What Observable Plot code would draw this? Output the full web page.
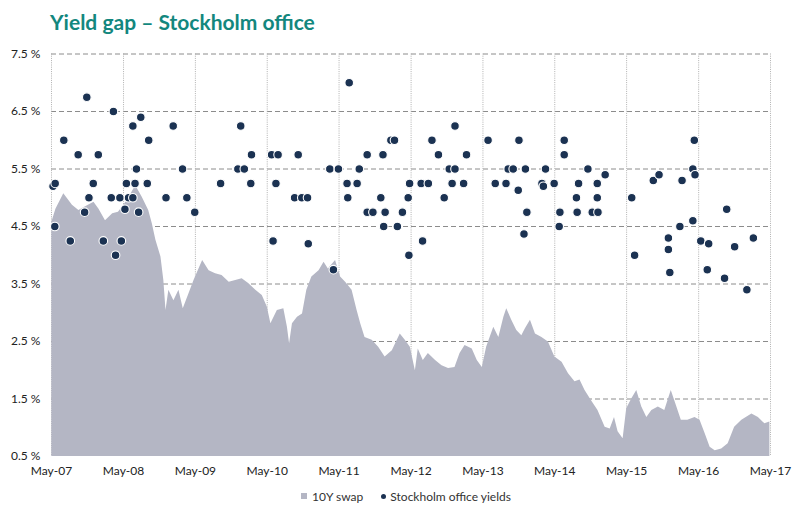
<!DOCTYPE html>
<html>
<head>
<meta charset="utf-8">
<script src="https://cdn.jsdelivr.net/npm/d3@7"></script>
<script src="https://cdn.jsdelivr.net/npm/@observablehq/plot@0.6"></script>
<style>
  html, body { margin: 0; padding: 0; background: #fff; }
  #wrap { position: relative; width: 812px; height: 515px; font-family: Lato, "Open Sans", sans-serif; }
  #title { position: absolute; left: 50px; top: 11px; font-size: 21px; line-height: 21px; font-weight: 700; color: #13877e; white-space: nowrap; }
  #chart { position: absolute; left: 0; top: 38px; }
  #legend { position: absolute; left: 0; width: 812px; top: 487px; text-align: center; font-size: 12px; color: #333; white-space: nowrap; }
  #legend span.item { display: inline-flex; align-items: center; margin: 0 9px; }
  #legend .sq { display: inline-block; width: 6px; height: 6px; background: #b4b6c4; margin-right: 5px; }
  #legend .ci { display: inline-block; width: 5px; height: 5px; border-radius: 50%; background: #1b3252; margin-right: 4px; }
</style>
</head>
<body>
<div id="wrap">
  <div id="title">Yield gap – Stockholm office</div>
  <div id="chart"></div>
  <div id="legend"><span class="item"><span class="sq"></span>10Y swap</span><span class="item"><span class="ci"></span>Stockholm office yields</span></div>
</div>
<script>
// 10Y swap (decimal year, %)
const swapYear = [2007.333,2007.39,2007.50,2007.62,2007.71,2007.81,2007.92,2007.99,2008.08,2008.18,2008.26,2008.38,2008.50,2008.59,2008.68,2008.73,2008.78,2008.85,2008.89,2008.92,2008.96,2009.03,2009.10,2009.16,2009.24,2009.31,2009.43,2009.52,2009.61,2009.70,2009.80,2009.89,2009.98,2010.07,2010.17,2010.26,2010.33,2010.38,2010.47,2010.56,2010.61,2010.64,2010.68,2010.75,2010.82,2010.88,2010.95,2011.05,2011.12,2011.18,2011.28,2011.35,2011.42,2011.51,2011.58,2011.63,2011.69,2011.79,2011.88,2011.97,2012.07,2012.18,2012.25,2012.32,2012.39,2012.43,2012.50,2012.57,2012.67,2012.76,2012.85,2012.94,2013.01,2013.08,2013.18,2013.25,2013.32,2013.38,2013.48,2013.55,2013.62,2013.66,2013.73,2013.80,2013.87,2013.92,2013.99,2014.06,2014.15,2014.24,2014.33,2014.43,2014.52,2014.61,2014.68,2014.75,2014.84,2014.93,2015.03,2015.10,2015.16,2015.21,2015.28,2015.33,2015.40,2015.47,2015.54,2015.61,2015.68,2015.77,2015.86,2015.95,2016.02,2016.09,2016.18,2016.28,2016.35,2016.42,2016.49,2016.56,2016.65,2016.74,2016.83,2016.93,2017.07,2017.16,2017.25,2017.32];
const swapValue = [4.57,4.80,5.07,4.87,4.78,4.85,4.92,4.80,4.60,4.72,4.75,4.95,5.21,5.01,4.78,4.55,4.26,3.97,3.56,3.04,3.39,3.21,3.39,3.07,3.33,3.56,3.91,3.73,3.68,3.65,3.53,3.56,3.59,3.51,3.39,3.30,3.10,2.81,3.04,3.07,2.75,2.46,2.81,2.92,2.98,3.39,3.62,3.73,3.88,3.76,3.91,3.62,3.53,3.39,3.04,2.81,2.57,2.52,2.40,2.23,2.34,2.63,2.52,2.40,1.99,2.37,2.17,2.29,2.17,2.08,2.03,2.05,2.29,2.43,2.37,2.17,2.05,2.40,2.75,2.57,2.92,3.07,2.87,2.69,2.60,2.72,2.87,2.63,2.57,2.49,2.23,2.14,1.94,1.80,1.83,1.65,1.47,1.30,1.01,0.98,1.18,0.93,0.81,1.33,1.50,1.65,1.36,1.18,1.30,1.36,1.30,1.65,1.39,1.13,1.13,1.18,1.13,0.90,0.66,0.60,0.63,0.72,1.01,1.13,1.24,1.18,1.07,1.10];

// Stockholm office yields (decimal year, %)
const yieldYear = [2007.35,2007.38,2007.375,2007.50,2007.59,2007.70,2007.79,2007.82,2007.85,2007.91,2007.98,2008.05,2008.16,2008.19,2008.22,2008.28,2008.30,2008.35,2008.37,2008.40,2008.46,2008.46,2008.49,2008.51,2008.54,2008.57,2008.66,2008.68,2008.92,2009.02,2009.15,2009.21,2009.32,2009.68,2009.92,2009.96,2010.01,2010.10,2010.11,2010.39,2010.41,2010.45,2010.48,2010.71,2010.76,2010.81,2010.89,2010.90,2011.20,2011.25,2011.32,2011.44,2011.45,2011.47,2011.58,2011.61,2011.72,2011.72,2011.80,2011.91,2011.94,2011.95,2011.97,2012.05,2012.10,2012.14,2012.21,2012.29,2012.30,2012.31,2012.47,2012.49,2012.57,2012.62,2012.71,2012.79,2012.86,2012.90,2012.94,2012.94,2013.06,2013.10,2013.40,2013.50,2013.65,2013.68,2013.75,2013.82,2013.83,2013.90,2013.92,2013.94,2014.15,2014.17,2014.20,2014.32,2014.39,2014.40,2014.46,2014.46,2014.63,2014.64,2014.66,2014.79,2014.85,2014.92,2014.92,2014.93,2015.03,2015.40,2015.44,2015.70,2015.78,2015.91,2015.91,2015.93,2016.07,2016.10,2016.25,2016.25,2016.27,2016.28,2016.36,2016.45,2016.47,2016.69,2016.72,2016.83,2017.00,2017.09];
const yieldValue = [5.2,5.25,4.5,6.0,4.25,5.75,4.75,6.75,5.0,5.25,5.75,4.25,5.0,6.5,4.0,5.0,4.25,4.8,5.25,5.0,5.0,6.25,5.25,5.5,4.75,6.4,5.25,6.0,5.0,6.25,5.5,5.0,4.75,5.25,5.5,6.25,5.5,5.25,5.75,5.75,4.25,5.25,5.75,5.0,5.75,5.0,5.0,4.2,5.5,3.75,5.5,5.25,5.0,7.0,5.25,5.5,4.75,5.75,4.75,5.0,5.75,4.5,4.75,6.0,6.0,4.5,4.75,5.0,4.0,5.25,5.25,4.25,5.25,6.0,5.75,5.0,5.5,5.25,5.5,6.25,5.25,5.75,6.0,5.25,5.25,5.5,5.5,5.13,6.0,4.37,5.5,4.75,5.25,5.2,5.5,5.25,4.5,4.75,6.0,5.75,5.0,4.75,5.25,5.5,4.75,5.0,5.25,4.75,5.4,5.0,4.0,5.3,5.4,4.1,4.3,3.7,4.5,5.3,4.6,5.5,6.0,5.4,4.25,3.75,4.2,3.6,4.8,4.15,3.4,4.3];

// Axis ticks
const yTicks = [0.5, 1.5, 2.5, 3.5, 4.5, 5.5, 6.5, 7.5];
const xTickYears = [2007, 2008, 2009, 2010, 2011, 2012, 2013, 2014, 2015, 2016, 2017];
const xTickLabels = ["May-07","May-08","May-09","May-10","May-11","May-12","May-13","May-14","May-15","May-16","May-17"];

function decToDate(y) {
  const yr = Math.floor(y);
  const s = Date.UTC(yr, 0, 1), e = Date.UTC(yr + 1, 0, 1);
  return new Date(s + (y - yr) * (e - s));
}
const swap = swapYear.map((y, i) => ({date: decToDate(y), v: swapValue[i]}));
const yields = yieldYear.map((y, i) => ({date: decToDate(y), v: yieldValue[i]}));
const xTickDates = xTickYears.map(y => new Date(Date.UTC(y, 4, 1)));
const labelOf = new Map(xTickDates.map((d, i) => [+d, xTickLabels[i]]));

const chart = Plot.plot({
  width: 812,
  height: 443,
  marginLeft: 51,
  marginRight: 42,
  marginTop: 15.5,
  marginBottom: 25,
  style: {fontFamily: "Lato, 'Open Sans', sans-serif", fontSize: "12px", color: "#222", background: "white", overflow: "visible"},
  x: {type: "utc", domain: [xTickDates[0], xTickDates[xTickDates.length - 1]], ticks: xTickDates, tickFormat: d => labelOf.get(+d), tickSize: 0, tickPadding: 10, label: null},
  y: {domain: [0.5, 7.5], ticks: yTicks, tickFormat: d => d.toFixed(1) + " %", tickSize: 0, tickPadding: 11, label: null},
  marks: [
    Plot.ruleY(yTicks.slice(1), {stroke: "#8c8c8c", strokeDasharray: "5,3", strokeWidth: 1}),
    Plot.ruleX(xTickDates, {stroke: "#b0b0b0", strokeDasharray: "1,1.2", strokeWidth: 1}),
    Plot.areaY(swap, {x: "date", y1: 0.5, y2: "v", fill: "#b4b6c4", curve: "linear"}),
    Plot.dot(yields, {x: "date", y: "v", r: 4.3, fill: "#1b3252", stroke: "white", strokeWidth: 1.1})
  ]
});
document.getElementById("chart").appendChild(chart);
</script>
</body>
</html>
